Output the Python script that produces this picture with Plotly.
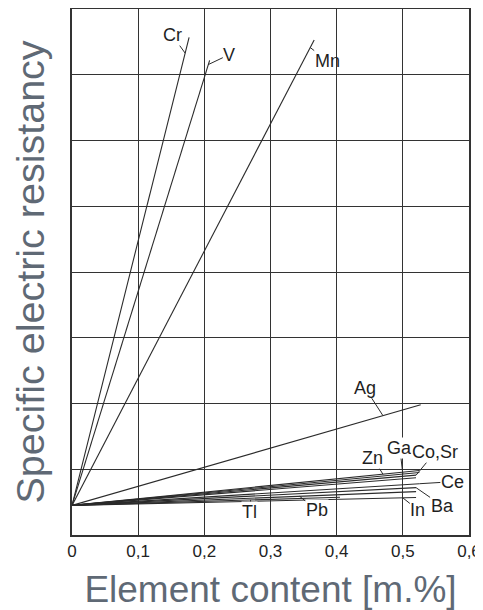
import plotly.graph_objects as go

# --- data (y in grid units, 0..8; x in mass %) ---
elements = ["Cr", "V", "Mn", "Ag", "Zn", "Ga", "Co", "Sr", "Ce", "Ba", "Pb", "In", "Tl"]
x_start = 0.0
y_start = 0.45
x_end = [0.177, 0.208, 0.366, 0.527, 0.525, 0.525, 0.52, 0.52, 0.525, 0.52, 0.52, 0.52, 0.405]
y_end = [7.57, 7.22, 7.53, 1.98, 0.98, 0.95, 0.91, 0.87, 0.78, 0.72, 0.66, 0.57, 0.575]

x_ticks = [0, 0.1, 0.2, 0.3, 0.4, 0.5, 0.6]
x_tick_labels = ["0", "0,1", "0,2", "0,3", "0,4", "0,5", "0,6"]

# label placement: (label text, element line, x on line where leader touches, ax, ay, white bg)
labels = [
    ("Cr", "Cr", 0.171, -13, -18, False),
    ("V", "V", 0.206, 21, -10, False),
    ("Mn", "Mn", 0.36, 17, 13, False),
    ("Ag", "Ag", 0.47, -18, -28, True),
    ("Zn", "Zn", 0.47, -10, -16, True),
    ("Ga", "Ga", 0.50, -3, -26, True),
    ("Co,Sr", "Co", 0.52, 19, -23, True),
    ("Ce", "Ce", 0.525, 33, -2, True),
    ("Ba", "Ba", 0.52, 26, 18, True),
    ("In", "In", 0.50, 15, 12, True),
    ("Pb", "Pb", 0.344, 17, 14, True),
    ("Tl", "Tl", 0.27, -1, 12, True),
]

FONT = "Liberation Sans, Arial"
line_color = "#2b2b2b"
fig = go.Figure()
for el, xe, ye in zip(elements, x_end, y_end):
    fig.add_trace(go.Scatter(x=[x_start, xe], y=[y_start, ye], mode="lines",
                             line=dict(color=line_color, width=1.1),
                             showlegend=False, hoverinfo="skip", name=el))

idx = {e: i for i, e in enumerate(elements)}
for text, el, xp, ax, ay, bg in labels:
    i = idx[el]
    yp = y_start + (y_end[i] - y_start) * (xp - x_start) / (x_end[i] - x_start)
    fig.add_annotation(x=xp, y=yp, text=text, showarrow=True, arrowhead=0,
                       arrowwidth=1, arrowcolor=line_color, ax=ax, ay=ay,
                       standoff=0, borderpad=0,
                       bgcolor="white" if bg else None,
                       font=dict(family=FONT, size=18, color="#1f1f1f"))

axis_common = dict(showgrid=True, gridcolor="#333333", gridwidth=1.2,
                   showline=True, linecolor="#333333", linewidth=1.5, mirror=True,
                   zeroline=False, ticks="", automargin=False)

# The page body has an 8px default margin, so the figure is sized to fit the window.
fig.update_layout(
    width=475, height=602,
    margin=dict(l=64, r=14, t=1, b=75),
    paper_bgcolor="white", plot_bgcolor="white",
    xaxis=dict(range=[0, 0.6], tickvals=x_ticks, ticktext=x_tick_labels,
               tickfont=dict(family=FONT, size=17, color="#222222"),
               title=dict(text="Element content [m.%]", standoff=19,
                          font=dict(family=FONT, size=37, color="#5f6975")),
               **axis_common),
    yaxis=dict(range=[0, 8], dtick=1, showticklabels=False,
               title=dict(text="Specific electric resistancy", standoff=13,
                          font=dict(family=FONT, size=39.5, color="#5f6975")),
               **axis_common),
)
fig.write_html("out.html")
